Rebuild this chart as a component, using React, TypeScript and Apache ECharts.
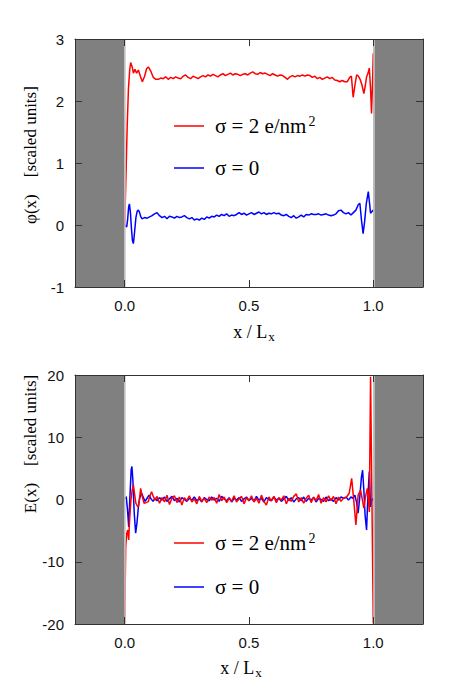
import React, { useEffect, useRef } from 'react';
import * as echarts from 'echarts';

const S2 = 'σ = 2 e/nm²';
const S0 = 'σ = 0';

const xTickValues = [0, 0.5, 1];
const phiRange = [-1, 3];
const eRange = [-20, 20];
const wallLeft = [-0.2, 0];
const wallRight = [1, 1.2];

const phiRed: number[][] = [
  [0, 0], [0.005, 0.8], [0.01, 1.6], [0.015, 2.2], [0.02, 2.5], [0.024, 2.62], [0.03, 2.55], [0.035, 2.45],
  [0.041, 2.51], [0.048, 2.45], [0.055, 2.5], [0.063, 2.4], [0.071, 2.31], [0.08, 2.4], [0.088, 2.52], [0.095, 2.55],
  [0.105, 2.48], [0.115, 2.38], [0.125, 2.35], [0.135, 2.35], [0.145, 2.37], [0.155, 2.36], [0.165, 2.39], [0.175, 2.35],
  [0.185, 2.38], [0.195, 2.36], [0.205, 2.39], [0.215, 2.37], [0.225, 2.36], [0.235, 2.4], [0.245, 2.42], [0.255, 2.38],
  [0.265, 2.36], [0.275, 2.4], [0.285, 2.38], [0.295, 2.36], [0.305, 2.39], [0.315, 2.41], [0.325, 2.39], [0.335, 2.42],
  [0.345, 2.4], [0.355, 2.43], [0.365, 2.41], [0.375, 2.39], [0.385, 2.42], [0.395, 2.44], [0.405, 2.41], [0.415, 2.43],
  [0.425, 2.45], [0.435, 2.42], [0.445, 2.44], [0.455, 2.43], [0.465, 2.41], [0.475, 2.43], [0.485, 2.44], [0.495, 2.42],
  [0.505, 2.45], [0.515, 2.47], [0.525, 2.44], [0.535, 2.43], [0.545, 2.46], [0.555, 2.44], [0.565, 2.45], [0.575, 2.43],
  [0.585, 2.41], [0.595, 2.44], [0.605, 2.42], [0.615, 2.4], [0.625, 2.42], [0.635, 2.41], [0.645, 2.38], [0.655, 2.35],
  [0.665, 2.39], [0.675, 2.41], [0.685, 2.39], [0.695, 2.41], [0.705, 2.4], [0.715, 2.42], [0.725, 2.4], [0.735, 2.42],
  [0.745, 2.41], [0.755, 2.38], [0.765, 2.4], [0.775, 2.36], [0.785, 2.38], [0.795, 2.35], [0.805, 2.37], [0.815, 2.39],
  [0.825, 2.36], [0.835, 2.38], [0.845, 2.34], [0.855, 2.33], [0.865, 2.31], [0.875, 2.33], [0.885, 2.31], [0.895, 2.31],
  [0.905, 2.38], [0.912, 2.4], [0.919, 2.06], [0.926, 2.25], [0.933, 2.42], [0.94, 2.4], [0.947, 2.35], [0.955, 2.25],
  [0.962, 2.12], [0.968, 2.25], [0.973, 2.39], [0.979, 2.45], [0.984, 2.53], [0.989, 2.2], [0.993, 1.8], [0.997, 2.3],
  [1.0, 2.77],
];

const phiBlue: number[][] = [
  [0, 0], [0.004, -0.02], [0.008, -0.03], [0.012, 0.1], [0.016, 0.3], [0.019, 0.34], [0.023, 0.2], [0.027, -0.05],
  [0.031, -0.25], [0.035, -0.3], [0.04, -0.1], [0.045, 0.12], [0.05, 0.22], [0.055, 0.24], [0.06, 0.2], [0.065, 0.13],
  [0.07, 0.1], [0.075, 0.11], [0.08, 0.12], [0.09, 0.11], [0.1, 0.13], [0.11, 0.15], [0.12, 0.18], [0.13, 0.2],
  [0.14, 0.15], [0.15, 0.12], [0.16, 0.14], [0.17, 0.1], [0.18, 0.14], [0.19, 0.13], [0.2, 0.11], [0.21, 0.14],
  [0.22, 0.12], [0.23, 0.13], [0.24, 0.15], [0.25, 0.12], [0.26, 0.1], [0.27, 0.12], [0.28, 0.08], [0.29, 0.1],
  [0.3, 0.08], [0.31, 0.11], [0.32, 0.09], [0.33, 0.13], [0.34, 0.11], [0.35, 0.14], [0.36, 0.13], [0.37, 0.16],
  [0.38, 0.14], [0.39, 0.17], [0.4, 0.15], [0.41, 0.18], [0.42, 0.14], [0.43, 0.16], [0.44, 0.15], [0.45, 0.17],
  [0.46, 0.2], [0.47, 0.17], [0.48, 0.19], [0.49, 0.16], [0.5, 0.18], [0.51, 0.2], [0.52, 0.17], [0.53, 0.19],
  [0.54, 0.21], [0.55, 0.18], [0.56, 0.2], [0.57, 0.17], [0.58, 0.19], [0.59, 0.18], [0.6, 0.2], [0.61, 0.18],
  [0.62, 0.19], [0.63, 0.16], [0.64, 0.15], [0.65, 0.17], [0.66, 0.14], [0.67, 0.12], [0.68, 0.15], [0.69, 0.11],
  [0.7, 0.13], [0.71, 0.16], [0.72, 0.13], [0.73, 0.17], [0.74, 0.16], [0.75, 0.18], [0.76, 0.17], [0.77, 0.17],
  [0.78, 0.18], [0.79, 0.16], [0.8, 0.17], [0.81, 0.18], [0.82, 0.16], [0.83, 0.15], [0.84, 0.16], [0.85, 0.18],
  [0.86, 0.23], [0.87, 0.24], [0.88, 0.2], [0.89, 0.18], [0.9, 0.2], [0.91, 0.16], [0.92, 0.2], [0.93, 0.24],
  [0.94, 0.33], [0.946, 0.35], [0.952, 0.1], [0.959, -0.14], [0.965, 0.05], [0.972, 0.35], [0.98, 0.54], [0.985, 0.35],
  [0.989, 0.19], [0.995, 0.22], [1.0, 0.24],
];

const eRed: number[][] = [
  [0, -19.8], [0.004, -7.6], [0.008, -5.5], [0.012, -4.9], [0.016, -6.5], [0.02, -3], [0.025, -0.1], [0.03, 1.5],
  [0.035, 2.3], [0.04, 0.8], [0.045, -0.6], [0.05, -1.0], [0.055, -1.2], [0.06, 0.3], [0.064, 1.8], [0.07, 0.6],
  [0.078, -0.6], [0.086, -0.5], [0.095, -0.35], [0.1, 0.4], [0.108, 1.25], [0.115, 0.5], [0.122, -0.1],
  [0.13, 0.5], [0.14, -0.6], [0.15, 0.3], [0.16, -0.4], [0.17, 0.7], [0.18, -0.8], [0.19, 0.2], [0.2, 0.6],
  [0.21, -0.5], [0.22, 0.4], [0.23, -0.9], [0.24, 0.3], [0.25, -0.2], [0.26, 0.6], [0.27, -0.4], [0.28, 0.1],
  [0.29, -0.7], [0.3, 0.5], [0.31, -0.3], [0.32, 0.2], [0.33, -0.5], [0.34, 0.4], [0.35, -0.1], [0.36, 0.3],
  [0.37, -0.6], [0.38, 0.8], [0.39, -0.2], [0.4, 0.4], [0.41, -0.5], [0.42, 0.2], [0.43, -0.3], [0.44, 0.6],
  [0.45, -0.4], [0.46, 0.1], [0.47, 0.5], [0.48, -0.7], [0.49, 0.3], [0.5, -0.2], [0.51, 0.6], [0.52, -0.4],
  [0.53, 0.2], [0.54, -0.6], [0.55, 0.7], [0.56, -0.3], [0.57, -0.9], [0.58, 0.4], [0.59, -0.2], [0.6, 0.5],
  [0.61, -0.5], [0.62, 0.3], [0.63, -0.1], [0.64, 0.6], [0.65, -0.7], [0.66, 0.2], [0.67, -0.3], [0.68, 0.5],
  [0.69, 0.9], [0.7, -0.4], [0.71, 0.3], [0.72, -0.6], [0.73, 0.2], [0.74, 0.7], [0.75, -0.5], [0.76, 0.4],
  [0.77, -0.2], [0.78, 0.8], [0.79, -0.6], [0.8, 0.3], [0.81, -0.4], [0.82, 0.6], [0.83, -0.2], [0.84, 0.5],
  [0.85, -0.7], [0.86, 0.4], [0.87, -0.3], [0.88, 0.2],
  [0.893, 0.45], [0.903, 1.0], [0.913, 3.4], [0.92, 0.5], [0.93, -4.1], [0.935, -1.5], [0.939, 0.7], [0.949, 1.5],
  [0.955, 0.2], [0.962, -1.4], [0.969, 0.5], [0.976, 1.8], [0.98, 0.2], [0.984, -2.0], [0.989, 19.7], [1.0, -19.9],
];

const eBlue: number[][] = [
  [0, 0], [0.006, 0.45], [0.011, -1.5], [0.016, -4.4], [0.021, 0.5], [0.026, 4.8], [0.029, 5.3], [0.033, 3.0],
  [0.038, -2], [0.044, -5.4], [0.05, -3.5], [0.055, -1.2], [0.06, 0.2], [0.068, 1.0], [0.075, 0.3], [0.082, -0.3],
  [0.09, 0.2], [0.098, 0.7], [0.106, 0.1], [0.114, -0.3], [0.122, 0.2],
  [0.13, -0.2], [0.14, 0.3], [0.15, -0.1], [0.16, 0.4], [0.17, -0.3], [0.18, 0.1], [0.19, 0.5], [0.2, -0.2],
  [0.21, 0.2], [0.22, -0.4], [0.23, 0.3], [0.24, 0.0], [0.25, -0.3], [0.26, 0.2], [0.27, -0.1], [0.28, 0.4],
  [0.29, -0.2], [0.3, 0.1], [0.31, -0.4], [0.32, 0.3], [0.33, 0.0], [0.34, -0.2], [0.35, 0.4], [0.36, -0.1],
  [0.37, 0.2], [0.38, -0.3], [0.39, 0.5], [0.4, 0.1], [0.41, -0.2], [0.42, 0.3], [0.43, -0.4], [0.44, 0.2],
  [0.45, -0.1], [0.46, 0.3], [0.47, -0.3], [0.48, 0.1], [0.49, 0.4], [0.5, -0.2], [0.51, 0.2], [0.52, -0.3],
  [0.53, 0.5], [0.54, -0.1], [0.55, 0.2], [0.56, -0.4], [0.57, 0.3], [0.58, 0.0], [0.59, -0.2], [0.6, 0.4],
  [0.61, -0.1], [0.62, 0.2], [0.63, -0.3], [0.64, 0.1], [0.65, 0.5], [0.66, -0.2], [0.67, 0.3], [0.68, -0.4],
  [0.69, 0.1], [0.7, 0.3], [0.71, -0.2], [0.72, 0.4], [0.73, -0.3], [0.74, 0.2], [0.75, -0.1], [0.76, 0.3],
  [0.77, -0.4], [0.78, 0.2], [0.79, 0.0], [0.8, -0.3], [0.81, 0.4], [0.82, -0.2], [0.83, 0.1], [0.84, -0.3],
  [0.85, 0.3], [0.86, -0.1], [0.87, 0.4], [0.88, 0.2],
  [0.893, 0.3], [0.9, -0.1], [0.91, 0.4], [0.918, 0.2], [0.926, 0.7], [0.933, -0.5], [0.939, -2.2], [0.946, 0.5],
  [0.952, 3.5], [0.957, 4.7], [0.962, 1.5], [0.967, -2.5], [0.973, -4.9], [0.978, 0.2], [0.984, 4.5], [0.989, -1.2],
  [0.995, 0.1], [1.0, 0],
];

const SERIF = '"Liberation Serif", "Times New Roman", serif';
const SANS = '"Liberation Sans", Arial, sans-serif';
const AX = '#333';
const RED = '#ff0000';
const BLUE = '#0000ff';

function buildOption() {
  const xAxisBase = (gridIndex: number, position: 'top' | 'bottom', labels: boolean) => ({
    type: 'value',
    gridIndex,
    position,
    min: -0.2,
    max: 1.2,
    z: 6,
    splitLine: { show: false },
    axisLine: { show: true, onZero: false, lineStyle: { color: AX, width: 1 } },
    axisTick: { show: true, inside: true, length: 7, customValues: xTickValues, lineStyle: { color: AX } },
    axisLabel: {
      show: labels,
      customValues: xTickValues,
      formatter: (v: number) => v.toFixed(1),
      fontFamily: SANS,
      fontSize: 15,
      color: '#111',
      margin: 11,
    },
  });
  const yAxisBase = (gridIndex: number, position: 'left' | 'right', range: number[], interval: number, labels: boolean) => ({
    type: 'value',
    gridIndex,
    position,
    min: range[0],
    max: range[1],
    interval,
    z: 6,
    splitLine: { show: false },
    axisLine: { show: true, onZero: false, lineStyle: { color: AX, width: 1 } },
    axisTick: { show: true, inside: true, length: 7, lineStyle: { color: AX } },
    axisLabel: {
      show: labels,
      fontFamily: SANS,
      fontSize: 15,
      color: '#111',
      margin: 11,
      showMinLabel: true,
      showMaxLabel: true,
    },
  });

  const wallSeries = (idx: number) => ({
    type: 'line',
    xAxisIndex: idx * 2,
    yAxisIndex: idx * 2,
    data: [],
    silent: true,
    z: 1,
    markArea: {
      silent: true,
      itemStyle: { color: '#808080', opacity: 1 },
      data: [
        [{ xAxis: wallLeft[0] }, { xAxis: wallLeft[1] }],
        [{ xAxis: wallRight[0] }, { xAxis: wallRight[1] }],
      ],
    },
    markLine: {
      silent: true,
      symbol: 'none',
      label: { show: false },
      lineStyle: { color: '#c8c8c8', width: 1.5, type: 'solid' },
      data: [{ xAxis: wallLeft[1] }, { xAxis: wallRight[0] }],
    },
  });

  const lineSeries = (name: string, data: number[][], color: string, idx: number, z: number) => ({
    type: 'line',
    name,
    xAxisIndex: idx * 2,
    yAxisIndex: idx * 2,
    data,
    showSymbol: false,
    symbol: 'none',
    z,
    lineStyle: { color, width: 1.5 },
    itemStyle: { color },
  });

  const legendRich = {
    a: { fontFamily: SERIF, fontSize: 21, lineHeight: 24, fill: '#000', color: '#000' },
    b: { fontFamily: SERIF, fontSize: 14, lineHeight: 14, verticalAlign: 'top', fill: '#000', color: '#000', padding: [0, 0, 0, 2] },
  };
  const legendItem = (name: string, color: string, cy: number) => [
    {
      type: 'line',
      z: 10,
      shape: { x1: 174, y1: cy, x2: 204, y2: cy },
      style: { stroke: color, lineWidth: 1.5 },
    },
    {
      type: 'text',
      x: 215,
      y: cy,
      z: 10,
      style: {
        text: name === S2 ? '{a|σ = 2 e/nm}{b|2}' : '{a|σ = 0}',
        align: 'left',
        verticalAlign: 'middle',
        rich: legendRich,
      },
    },
  ];

  const xTitle = (cx: number, cy: number) => ({
    type: 'text',
    x: cx,
    y: cy,
    z: 10,
    style: {
      text: '{m|x / L}{s|x}',
      align: 'center',
      verticalAlign: 'middle',
      rich: {
        m: { fontFamily: SERIF, fontSize: 18, lineHeight: 22, fill: '#000', color: '#000' },
        s: { fontFamily: SERIF, fontSize: 13, lineHeight: 13, verticalAlign: 'bottom', fill: '#000', color: '#000', padding: [0, 0, 0, 1] },
      },
    },
  });
  const yTitle = (text: string, cx: number, cy: number) => ({
    type: 'text',
    x: cx,
    y: cy,
    rotation: Math.PI / 2,
    z: 10,
    style: {
      text,
      fontFamily: SERIF,
      fontSize: 17,
      fill: '#000',
      align: 'center',
      verticalAlign: 'middle',
    },
  });

  return {
    animation: false,
    backgroundColor: '#ffffff',
    grid: [
      { left: 75, top: 39, width: 348, height: 248, show: false },
      { left: 75, top: 375, width: 348, height: 249, show: false },
    ],
    xAxis: [
      xAxisBase(0, 'bottom', true),
      xAxisBase(0, 'top', false),
      xAxisBase(1, 'bottom', true),
      xAxisBase(1, 'top', false),
    ],
    yAxis: [
      yAxisBase(0, 'left', phiRange, 1, true),
      yAxisBase(0, 'right', phiRange, 1, false),
      yAxisBase(1, 'left', eRange, 10, true),
      yAxisBase(1, 'right', eRange, 10, false),
    ],
    series: [
      wallSeries(0),
      lineSeries(S0, phiBlue, BLUE, 0, 2),
      lineSeries(S2, phiRed, RED, 0, 3),
      wallSeries(1),
      lineSeries(S0, eBlue, BLUE, 1, 2),
      lineSeries(S2, eRed, RED, 1, 3),
    ],
    graphic: [
      ...legendItem(S2, RED, 126),
      ...legendItem(S0, BLUE, 168),
      ...legendItem(S2, RED, 543),
      ...legendItem(S0, BLUE, 587),
      xTitle(254, 332),
      xTitle(241, 668),
      yTitle('φ(x)    [scaled units]', 30, 155),
      yTitle('E(x)    [scaled units]', 30, 444),
    ],
  };
}

export default function App() {
  const ref = useRef<HTMLDivElement>(null);
  useEffect(() => {
    document.body.style.margin = '0';
    if (!ref.current) return;
    const chart = echarts.init(ref.current, undefined, { renderer: 'svg' });
    chart.setOption(buildOption() as any);
    return () => chart.dispose();
  }, []);
  return <div ref={ref} style={{ width: 455, height: 689 }} />;
}
